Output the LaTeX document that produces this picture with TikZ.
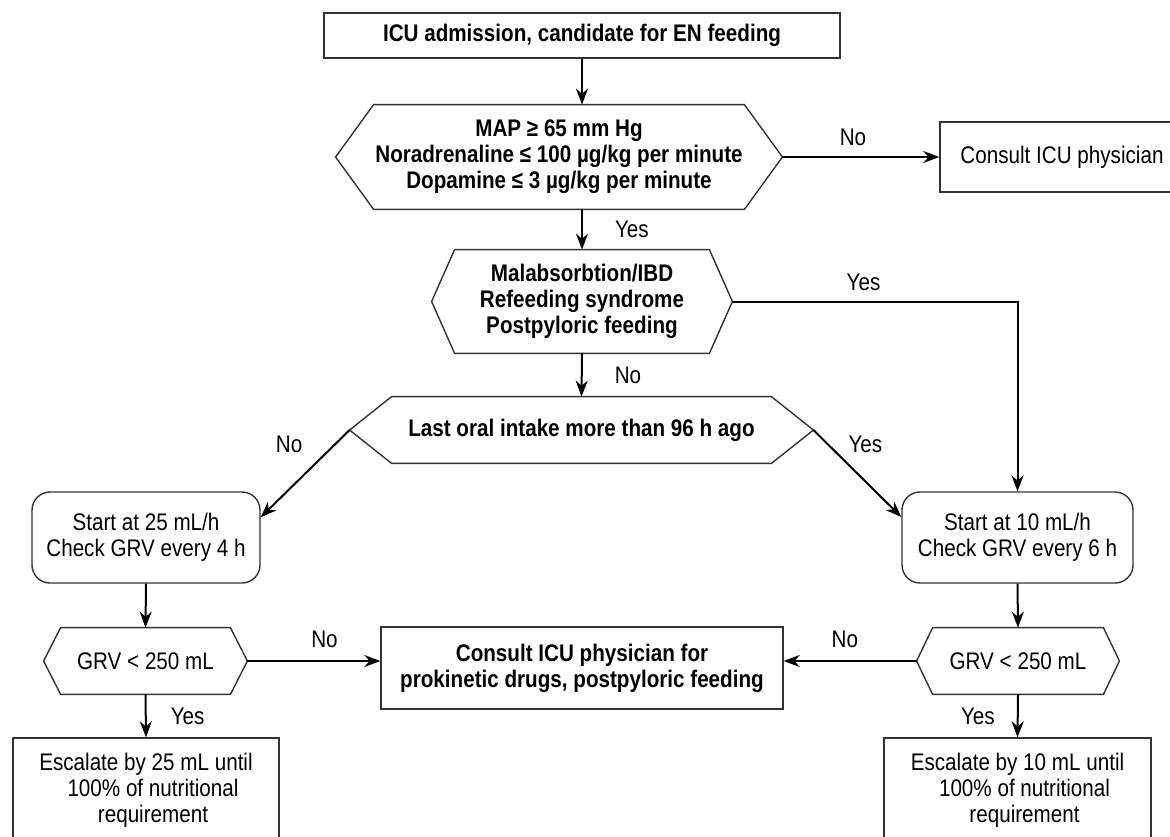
\documentclass[tikz,border=0pt]{standalone}
\usepackage{fontspec}
\setmainfont{Liberation Sans}[FakeStretch=0.86]
\usetikzlibrary{arrows.meta, positioning}

\begin{document}
\begin{tikzpicture}[
  x=0.5pt, y=-0.5pt, >=Stealth,
  font=\fontsize{12}{13}\selectfont,
  bfont/.style={font=\fontsize{12}{13}\selectfont\bfseries},
  box/.style={draw=black!80, line width=0.7pt, align=center, inner sep=3pt},
  boldbox/.style={box, bfont},
  roundb/.style={box, rounded corners=9pt},
  hexb/.style={align=center, inner sep=2pt},
  frame/.style={draw=black!80, line width=0.7pt},
  lbl/.style={inner sep=0pt},
  arr/.style={-{Stealth[length=8pt, width=6pt]}, line width=1pt, black},
]
\useasboundingbox (0,0) rectangle (1170,836);

% ---- admission and haemodynamic check ----
\node[boldbox, minimum width=258pt, minimum height=22.5pt] (adm) at (582,35.5) {ICU admission, candidate for EN feeding};
\node[hexb, bfont, minimum width=223pt, minimum height=52pt] (mapq) at (559,157)
  {MAP ≥ 65 mm Hg\\Noradrenaline ≤ 100 µg/kg per minute\\Dopamine ≤ 3 µg/kg per minute};
\node[box, minimum width=122pt, minimum height=35pt] (cons) at (1062,157) {Consult ICU physician};

% ---- contraindications and oral intake ----
\node[hexb, bfont, minimum width=150pt, minimum height=51.5pt] (malq) at (582,301.5)
  {Malabsorbtion/IBD\\Refeeding syndrome\\Postpyloric feeding};
\node[hexb, bfont, minimum width=231.5pt, minimum height=33pt] (oralq) at (581.5,430)
  {Last oral intake more than 96 h ago};

% ---- two feeding schemes ----
\node[roundb, minimum width=114pt, minimum height=45.5pt] (st25) at (146,537.5) {Start at 25 mL/h\\Check GRV every 4 h};
\node[roundb, minimum width=115.5pt, minimum height=45.5pt] (st10) at (1017.5,537.5) {Start at 10 mL/h\\Check GRV every 6 h};
\node[hexb, minimum width=101.5pt, minimum height=33pt] (grvl) at (145.5,661) {GRV < 250 mL};
\node[hexb, minimum width=101pt, minimum height=33pt] (grvr) at (1018,661) {GRV < 250 mL};
\node[boldbox, minimum width=201pt, minimum height=41pt] (pkin) at (582,668)
  {Consult ICU physician for\\prokinetic drugs, postpyloric feeding};
\node[box, minimum width=133pt, minimum height=52pt] (escl) at (146,790)
  {Escalate by 25 mL until\\\hspace*{7pt}100\% of nutritional\\\hspace*{7pt}requirement};
\node[box, minimum width=133.5pt, minimum height=52pt] (escr) at (1017.5,790)
  {Escalate by 10 mL until\\\hspace*{7pt}100\% of nutritional\\\hspace*{7pt}requirement};

% hexagon outlines round the decision nodes
\foreach \n/\d in {mapq/19pt, malq/11.5pt, oralq/21pt, grvl/8.5pt, grvr/8pt}
  \draw[frame] ([xshift=\d]\n.north west) -- ([xshift=-\d]\n.north east) -- (\n.east)
    -- ([xshift=-\d]\n.south east) -- ([xshift=\d]\n.south west) -- (\n.west) -- cycle;

% ---- connectors ----
\draw[arr] (adm.south) -- (adm.south |- mapq.north);
\draw[arr] (mapq.east) -- (cons.west) node[lbl, pos=0.45, above=5pt] {No};
\draw[arr] (mapq.south -| malq.north) -- (malq.north) node[lbl, midway, right=16pt] {Yes};
\draw[arr] (malq.east) -| (st10.north) node[lbl, pos=0.23, above=5pt] {Yes};
\draw[arr] (malq.south) -- (oralq.north) node[lbl, midway, right=16pt] {No};
\draw[arr] (oralq.west) -- (st25.10) node[lbl, midway, above=10pt, xshift=-8pt] {No};
\draw[arr] (oralq.east) -- (st10.170) node[lbl, midway, above=10pt, xshift=4pt] {Yes};
\draw[arr] (st25.south) -- (grvl.north);
\draw[arr] (st10.south) -- (grvr.north);
\draw[arr] (grvl.east) -- (grvl.east -| pkin.west) node[lbl, pos=0.58, above=6pt] {No};
\draw[arr] (grvr.west) -- (grvr.west -| pkin.east) node[lbl, pos=0.54, above=6pt] {No};
\draw[arr] (grvl.south) -- (escl.north) node[lbl, midway, right=12pt] {Yes};
\draw[arr] (grvr.south) -- (escr.north) node[lbl, midway, left=11pt] {Yes};

\end{tikzpicture}
\end{document}
